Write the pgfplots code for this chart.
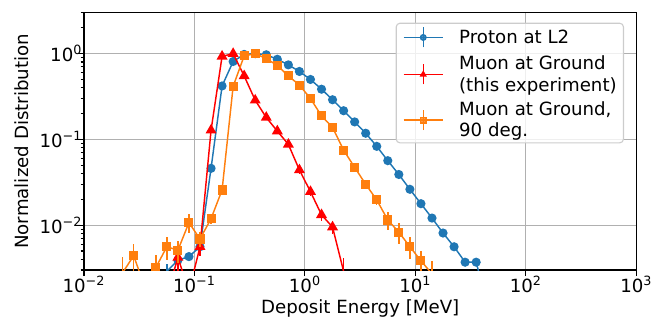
\documentclass[border=0pt]{standalone}
\usepackage{fontspec}
\setmainfont{DejaVu Sans}
\usepackage{pgfplots}
\usepackage{pgfplotstable}
\pgfplotsset{compat=1.18}

\definecolor{tabblue}{HTML}{1F77B4}
\definecolor{taborange}{HTML}{FF7F0E}
\definecolor{mplred}{HTML}{FF0000}
\definecolor{gridgray}{HTML}{B0B0B0}
\definecolor{legedge}{HTML}{CCCCCC}

% x: bin centre [MeV], y: normalized distribution, e: error
\pgfplotstableread{
x       y       e
0.04467 0.0012  0.0004
0.05623 0.0029  0.0006
0.07079 0.0039  0.0006
0.08913 0.0043  0.0005
0.1122  0.0056  0.0006
0.1413  0.046   0.002
0.1778  0.42    0.006
0.2239  0.81    0.008
0.2818  0.98    0.008
0.3548  1.0     0.008
0.4467  0.97    0.008
0.5623  0.86    0.007
0.7079  0.74    0.007
0.8913  0.62    0.006
1.122   0.50    0.005
1.413   0.385   0.004
1.778   0.29    0.003
2.239   0.216   0.003
2.818   0.160   0.002
3.548   0.118   0.002
4.467   0.083   0.0015
5.623   0.0565  0.0012
7.079   0.039   0.001
8.913   0.0262  0.0008
11.22   0.0178  0.0006
14.13   0.0121  0.0005
17.78   0.0081  0.0004
22.39   0.0056  0.0004
28.18   0.0037  0.0003
35.48   0.0037  0.0004
44.67   0.0012  0.0003
}\proton

\pgfplotstableread{
x       y       e
0.05623 0.0015  0.0008
0.07079 0.0042  0.0015
0.08913 0.0017  0.0009
0.1122  0.0056  0.0012
0.1413  0.128   0.006
0.1778  0.93    0.02
0.2239  1.0     0.02
0.2818  0.55    0.015
0.3548  0.286   0.01
0.4467  0.18    0.008
0.5623  0.125   0.007
0.7079  0.0875  0.006
0.8913  0.044   0.004
1.122   0.0246  0.003
1.413   0.0132  0.002
1.778   0.0095  0.0016
2.239   0.0029  0.0012
}\muonground

\pgfplotstableread{
x       y       e
0.02239 0.0028  0.0014
0.02818 0.0044  0.0016
0.03548 0.0019  0.001
0.04467 0.0032  0.0013
0.05623 0.0056  0.0017
0.07079 0.0051  0.0015
0.08913 0.0107  0.0027
0.1122  0.0069  0.0014
0.1413  0.0119  0.0017
0.1778  0.0257  0.0025
0.2239  0.416   0.01
0.2818  0.94    0.015
0.3548  1.0     0.015
0.4467  0.875   0.014
0.5623  0.73    0.013
0.7079  0.55    0.011
0.8913  0.43    0.01
1.122   0.30    0.008
1.413   0.188   0.006
1.778   0.138   0.005
2.239   0.075   0.004
2.818   0.0472  0.003
3.548   0.030   0.0025
4.467   0.0197  0.0025
5.623   0.0115  0.0028
7.079   0.0083  0.0022
8.913   0.0056  0.0016
11.22   0.00385 0.0012
14.13   0.0027  0.0011
}\muonninety

\pgfplotsset{
  errleg/.style={legend image code/.code={
    \draw[##1, mark=none] (0pt,0pt) -- (21.5pt,0pt);
    \draw[##1, mark=none] (10.75pt,-5.5pt) -- (10.75pt,5.5pt);
    \draw[##1, mark size=1.5pt] plot coordinates {(10.75pt,0pt)};
  }},
  ebars/.style={error bars/y dir=both, error bars/y explicit,
    error bars/error mark=none,
    error bars/error bar style={line width=0.8pt}},
}

\begin{document}
\begin{tikzpicture}
\begin{axis}[
  name=ax,
  scale only axis,
  width=303.8pt, height=141.5pt,
  xmode=log, ymode=log,
  xmin=0.01, xmax=1000, ymin=0.003, ymax=3,
  xtick={0.01,0.1,1,10,100,1000},
  xticklabels={10\textsuperscript{−2},10\textsuperscript{−1},10\textsuperscript{0},10\textsuperscript{1},10\textsuperscript{2},10\textsuperscript{3}},
  ytick={0.01,0.1,1},
  yticklabels={10\textsuperscript{−2},10\textsuperscript{−1},10\textsuperscript{0}},
  minor ytick={0.003,0.004,0.005,0.006,0.007,0.008,0.009,0.02,0.03,0.04,0.05,0.06,0.07,0.08,0.09,0.2,0.3,0.4,0.5,0.6,0.7,0.8,0.9,2,3},
  xminorticks=false,
  tick pos=left,
  tick align=outside,
  major tick length=3.3pt,
  minor tick length=1.9pt,
  tick style={black, line width=0.6pt},
  axis line style={line width=0.7pt},
  xmajorgrids, ymajorgrids,
  major grid style={gridgray, line width=0.6pt},
  xticklabel style={anchor=base, inner sep=0pt, yshift=-9.1pt},
  yticklabel style={anchor=east, inner sep=0pt, xshift=2.6pt},
  xlabel={Deposit Energy [MeV]},
  ylabel={Normalized Distribution},
  every axis x label/.style={at={([yshift=-23.65pt]axis description cs:0.5,0)}, anchor=base},
  every axis y label/.style={at={([xshift=-34.1pt]axis description cs:0,0.5)}, anchor=center, rotate=90},
  clip marker paths=true,
  legend cell align=left,
  legend style={
    at={(axis description cs:1,1)}, anchor=north east,
    xshift=-6.8pt, yshift=-5.5pt,
    draw=legedge, line width=0.6pt, fill=white, fill opacity=0.8, text opacity=1,
    rounded corners=2pt,
    inner xsep=3.7pt, inner ysep=1.9pt,
    row sep=3.85pt, column sep=8.6pt,
    nodes={inner sep=0pt, anchor=west, align=left, font=\fontsize{10}{11.6}\selectfont},
  },
]
\addplot[tabblue, line width=0.8pt, mark=*, mark size=2.1pt, mark options={solid, fill=tabblue}, errleg, ebars]
  table[x=x, y=y, y error=e] {\proton};
\addlegendentry{\strut Proton at L2}
\addplot[mplred, line width=0.8pt, mark=triangle*, mark size=2.7pt, mark options={solid, fill=mplred}, errleg, ebars]
  table[x=x, y=y, y error=e] {\muonground};
\addlegendentry{\strut Muon at Ground\\\strut (this experiment)}
\addplot[taborange, line width=0.8pt, mark=square*, mark size=2.1pt, mark options={solid, fill=taborange}, errleg, ebars]
  table[x=x, y=y, y error=e] {\muonninety};
\addlegendentry{\strut Muon at Ground,\\\strut 90 deg.}
\end{axis}
\pgfresetboundingbox
\path[use as bounding box] ([xshift=-46.2pt, yshift=-26.95pt]ax.south west) rectangle ([xshift=11.9pt, yshift=7pt]ax.north east);
\end{tikzpicture}
\end{document}
